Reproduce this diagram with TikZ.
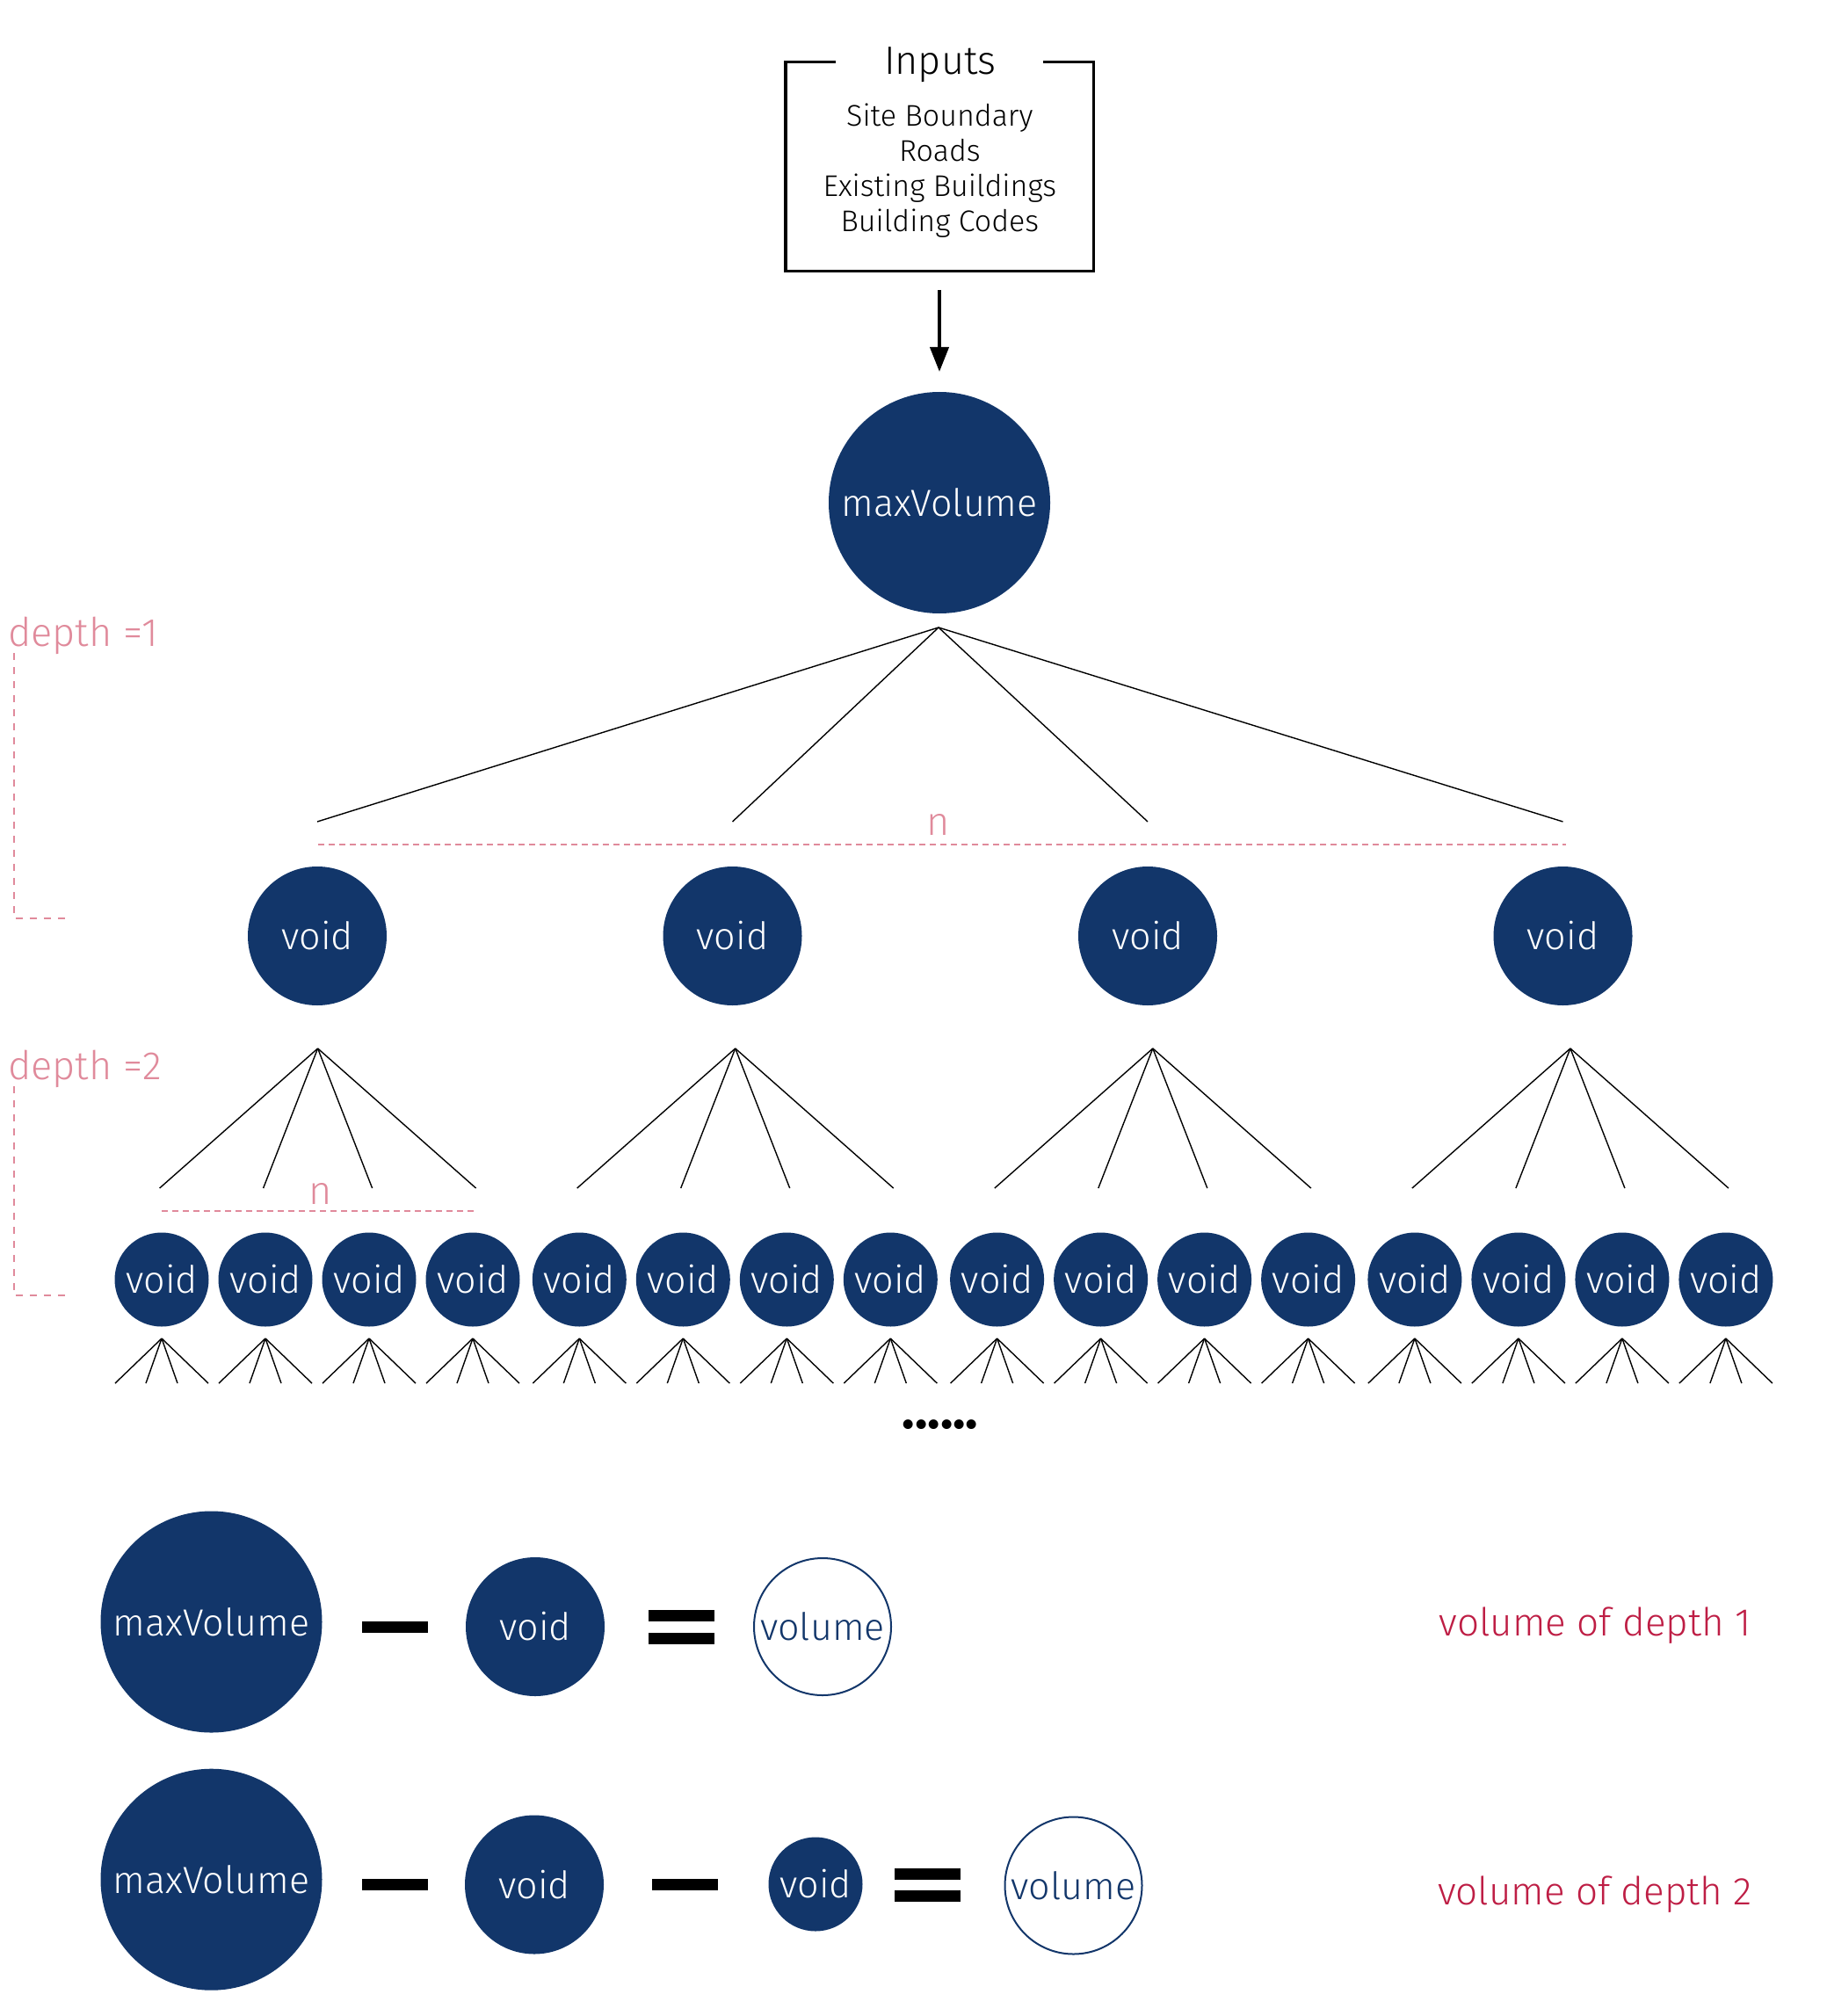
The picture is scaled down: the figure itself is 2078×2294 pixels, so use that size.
\documentclass[tikz,border=0pt]{standalone}
\usepackage{fontspec}
\setmainfont{Fira Sans}[UprightFont=* Light, BoldFont=* Bold, ItalicFont=* Light Italic, BoldItalicFont=* Bold Italic]
\usetikzlibrary{arrows.meta}
\definecolor{navy}{HTML}{12366A}
\definecolor{pinkl}{HTML}{E08A9B}
\definecolor{crim}{HTML}{BE1E45}
\newcommand\cfont{\fontsize{21.5}{24}\selectfont}
\begin{document}
\begin{tikzpicture}[x=0.5pt,y=-0.5pt,
  fan/.style={draw=black, line width=0.7pt},
  pinkdash/.style={draw=pinkl, line width=1pt, dash pattern=on 3.5pt off 2.5pt},
  depthdash/.style={draw=pinkl, line width=1pt, dash pattern=on 4pt off 4pt},
  vbig/.style={circle, fill=navy, text=white, inner sep=0pt, minimum size=126pt, font=\cfont},
  vmid/.style={circle, fill=navy, text=white, inner sep=0pt, minimum size=79pt, font=\cfont},
  vsmall/.style={circle, fill=navy, text=white, inner sep=0pt, minimum size=53.5pt, font=\cfont},
  vout/.style={circle, draw=navy, line width=1pt, fill=white, text=navy, inner sep=0pt, minimum size=78pt, font=\cfont},
  pinklab/.style={text=pinkl, inner sep=0pt, font=\fontsize{22.5}{24}\selectfont},
  crimlab/.style={text=crim, inner sep=0pt, font=\fontsize{22}{24}\selectfont},
  bar/.style={fill=black, inner sep=0pt, minimum width=37.5pt, minimum height=6.5pt},
  boxline/.style={draw=black, line width=1.65pt},
  arr/.style={draw=black, line width=2pt, -{Triangle[width=10.5pt,length=14pt]}}
]
\fill[white] (0,0) rectangle (2078,2294);
\useasboundingbox (0,0) rectangle (2078,2294);

% Inputs box
\node[inner sep=0pt, minimum width=175pt, minimum height=118.65pt] (box) at (1069.4,189.4) {};
\node[inner sep=0pt, align=center, font=\fontsize{17}{20}\selectfont] (items) at (1069.4,194)
      {Site Boundary\\Roads\\Existing Buildings\\Building Codes};
\draw[boxline] ([xshift=28.65pt]box.north west) -- (box.north west) -- (box.south west)
  -- (box.south east) -- (box.north east) -- ([xshift=-29pt]box.north east);
\node[inner sep=0pt, anchor=base, font=\fontsize{22.5}{24}\selectfont] (title) at (1069.7,85) {Inputs};

% arrow
\coordinate (arrS) at (1069,330);
\coordinate (arrE) at (1069,423);
\draw[arr] (arrS) -- (arrE);

% root
\node[vbig] (root) at (1069,572) {maxVolume};

% depth 1 fan
\coordinate (a0) at (1068,714);
\foreach \i in {0,...,3} {
  \pgfmathsetmacro\ex{361+472.5*\i}
  \coordinate (ae\i) at (\ex,935);
  \draw[fan] (a0) -- (ae\i);
  \node[vmid] (v\i) at (\ex,1065) {void};
}
\coordinate (n1s) at (362,961);
\coordinate (n1e) at (1782,961);
\draw[pinkdash] (n1s) -- (n1e);
\node[pinklab, anchor=base] (n1) at (1068,950) {n};

% depth labels
\node[pinklab, anchor=base west] (d1) at (9,735) {depth =1};
\node[pinklab, anchor=base west] (d2) at (9,1228) {depth =2};
\coordinate (d1a) at (16,743);
\coordinate (d1b) at (16,1045);
\coordinate (d1c) at (81,1045);
\draw[depthdash] (d1a) -- (d1b) -- (d1c);
\coordinate (d2a) at (16,1236);
\coordinate (d2b) at (16,1474);
\coordinate (d2c) at (81,1474);
\draw[depthdash] (d2a) -- (d2b) -- (d2c);

% depth 2 fans and voids
\foreach \g in {0,...,3} {
  \pgfmathsetmacro\ax{361.6+475.1*\g}
  \coordinate (b\g) at (\ax,1193);
  \foreach \d [count=\k] in {-180,-62,62,180} {
    \coordinate (b\g e\k) at ({\ax+(\d)},1352);
    \draw[fan] (b\g) -- (b\g e\k);
  }
  \foreach \k in {0,...,3} {
    \pgfmathsetmacro\cx{184+475.3*\g+118*\k}
    \node[vsmall] (w\g\k) at (\cx,1456) {void};
    \coordinate (c\g\k) at (\cx,1523);
    \foreach \d [count=\m] in {-53,-18,18,53} {
      \coordinate (c\g\k e\m) at ({\cx+(\d)},1574);
      \draw[fan] (c\g\k) -- (c\g\k e\m);
    }
  }
}
\coordinate (n2s) at (184,1378);
\coordinate (n2e) at (542,1378);
\draw[pinkdash] (n2s) -- (n2e);
\node[pinklab, anchor=base] (n2) at (365,1370) {n};

% ellipsis
\node[inner sep=0pt, anchor=base, font=\fontsize{30}{30}\selectfont\bfseries] (dots) at (1070,1625) {......};

% equation row 1
\node[vbig] (mv1) at (240.5,1845.5) {maxVolume};
\node[bar] (mi1) at (449,1851) {};
\node[vmid] (vo1) at (609,1851) {void};
\node[bar] (eq1a) at (775,1838) {};
\node[bar] (eq1b) at (775,1864.5) {};
\node[vout] (vl1) at (936,1851) {volume};
\node[crimlab, anchor=base] (lab1) at (1815,1861) {volume of depth 1};

% equation row 2
\node[vbig] (mv2) at (240.5,2138.7) {maxVolume};
\node[bar] (mi2) at (449,2144.3) {};
\node[vmid] (vo2) at (608,2144.5) {void};
\node[bar] (mi3) at (779,2144.2) {};
\node[vsmall] (vs2) at (928,2144) {void};
\node[bar] (eq2a) at (1055.3,2132) {};
\node[bar] (eq2b) at (1055.3,2157.8) {};
\node[vout] (vl2) at (1221.5,2145.5) {volume};
\node[crimlab, anchor=base] (lab2) at (1815,2167) {volume of depth 2};
\end{tikzpicture}
\end{document}
